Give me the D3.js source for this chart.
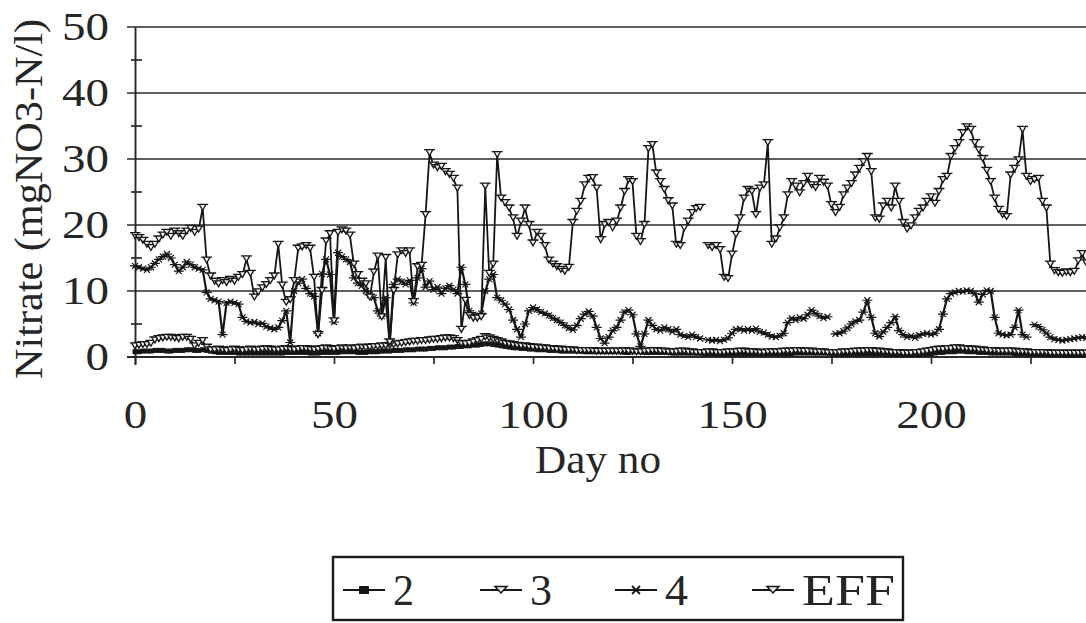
<!DOCTYPE html>
<html><head><meta charset="utf-8">
<script src="https://cdn.jsdelivr.net/npm/d3@7/dist/d3.min.js"></script>
<style>html,body{margin:0;padding:0;background:#fff;} svg{display:block;}</style>
</head><body><svg id="c" width="1086" height="623"></svg>
<script>
// ---------------- DATA ----------------
const days = d3.range(0, 240); // day numbers 0..239
const xTicks = [0, 25, 50, 75, 100, 125, 150, 175, 200, 225];
const xTickLabels = [0, 50, 100, 150, 200];
const yTicks = [0, 10, 20, 30, 40, 50];
const yMinorTicks = [5, 15, 25, 35, 45];
const seriesNames = ["2", "3", "4", "EFF"];

const sEFF = [
 18.3,18.0,17.6,17.0,16.5,17.0,17.8,18.4,18.8,18.2,
 19.0,18.6,18.2,19.0,19.4,18.8,19.3,22.6,14.6,12.2,
 11.4,11.0,11.5,11.2,11.7,11.4,12.0,12.4,14.8,12.6,
 9.0,9.8,10.4,10.9,11.5,12.2,17.0,10.8,8.2,8.6,
 11.5,16.4,16.6,16.8,16.4,12.0,3.3,10.0,17.5,18.6,
 5.4,18.8,19.2,19.0,18.4,14.0,12.4,11.4,11.0,9.0,
 12.8,15.2,6.0,15.0,2.2,10.0,15.4,16.0,15.6,16.0,
 8.3,13.6,13.8,21.5,30.9,29.0,28.6,28.8,28.0,27.6,
 27.0,25.5,4.1,8.5,6.2,5.8,5.8,6.0,25.8,12.6,
 14.0,30.6,24.0,23.3,22.5,21.0,18.2,20.5,22.5,20.0,
 17.2,18.8,18.2,16.8,14.6,14.0,13.6,13.2,12.9,13.5,
 20.3,22.0,23.5,26.0,27.0,27.1,25.5,17.7,20.0,20.3,
 19.5,20.5,22.5,25.0,26.8,26.5,18.2,17.4,20.0,31.5,
 32.1,27.8,26.5,25.3,23.6,22.8,17.0,16.8,19.5,20.5,
 21.8,22.4,22.6,null,16.8,16.5,16.8,16.2,12.0,11.8,
 15.5,18.5,21.0,24.0,25.3,25.0,21.5,25.5,26.0,32.4,
 17.0,17.8,19.5,21.0,24.5,26.5,25.8,24.8,26.2,27.3,
 26.0,25.6,27.0,26.4,25.8,23.0,21.8,22.6,24.5,25.5,
 26.2,27.5,28.5,29.5,30.3,28.0,21.0,20.8,22.8,23.5,
 22.5,25.8,23.5,20.3,19.3,19.8,21.0,22.0,22.5,23.5,
 24.2,23.2,25.0,26.8,27.3,30.3,31.5,32.4,33.9,34.8,
 34.4,32.4,31.3,30.0,28.2,26.5,24.0,22.3,21.5,21.2,
 27.5,28.5,29.8,34.4,27.3,26.5,26.8,27.0,23.5,22.5,
 14.0,13.0,12.7,12.6,12.8,12.7,12.9,14.5,15.6,14.2
];

const s4 = [
 13.8,13.6,13.4,13.2,13.6,14.2,14.8,15.2,15.6,15.0,
 14.0,13.0,13.6,14.4,14.0,13.6,13.4,13.2,9.8,8.8,
 8.6,8.4,3.4,8.2,8.4,8.2,8.0,6.0,5.4,5.2,
 5.3,5.0,5.1,4.6,4.4,4.2,4.5,5.5,7.0,2.2,
 10.0,11.2,11.8,10.4,9.6,9.2,3.6,12.6,14.8,12.5,
 5.3,15.8,15.2,14.8,14.4,12.0,11.2,10.8,10.0,9.4,
 9.0,7.0,6.2,9.0,2.1,11.0,11.8,11.4,11.0,11.6,
 8.2,12.0,13.4,10.6,11.5,10.2,10.6,9.6,10.4,10.8,
 10.2,9.6,13.6,11.0,7.0,6.4,6.2,6.6,10.0,11.8,
 12.5,9.0,8.6,8.0,7.2,5.6,4.2,3.0,5.0,7.0,
 7.5,7.2,6.8,6.6,6.3,5.9,5.6,5.2,4.8,4.4,
 4.1,4.8,5.8,6.5,6.9,6.2,4.5,2.8,2.1,3.0,
 4.0,4.5,5.6,6.8,7.1,6.4,3.5,1.6,3.5,5.6,
 4.8,4.2,4.0,4.5,4.2,3.8,4.2,3.4,3.2,3.0,
 3.4,3.0,2.8,null,2.6,2.5,2.6,2.4,2.6,2.9,
 3.6,4.2,4.3,4.0,4.2,4.0,4.3,3.8,3.7,3.4,
 3.1,3.0,3.2,3.6,5.2,5.9,5.6,6.0,5.8,6.4,
 7.1,6.6,6.2,5.9,6.1,null,3.5,3.6,3.9,4.4,
 5.0,5.4,5.6,6.8,8.6,6.0,3.6,3.1,3.8,4.5,
 5.2,6.1,4.0,3.4,3.0,3.2,2.9,3.3,3.5,3.6,
 3.4,3.6,4.2,6.5,8.8,9.6,9.8,10.0,9.9,10.1,
 10.0,9.6,8.3,9.5,10.1,10.0,6.0,3.6,3.4,3.3,
 3.4,4.5,7.1,3.4,3.0,null,4.9,4.6,4.1,3.6,
 3.0,2.7,2.6,2.5,2.6,2.7,2.8,2.9,3.0,2.9
];

const s3 = [
 1.6,1.7,1.8,1.8,2.0,2.5,2.7,2.8,2.9,2.9,
 2.8,2.7,2.9,2.9,2.6,1.6,2.0,2.4,1.4,1.0,
 1.0,1.1,1.0,0.9,1.0,1.1,1.0,0.9,1.0,1.1,
 1.0,1.0,1.1,1.2,1.1,1.0,1.0,1.1,1.2,1.1,
 1.0,1.1,1.2,1.2,1.1,1.0,1.1,1.2,1.3,1.2,
 1.1,1.2,1.3,1.2,1.3,1.2,1.3,1.4,1.3,1.4,
 1.5,1.5,1.6,1.6,1.7,1.8,1.9,2.0,2.1,2.2,
 2.3,2.3,2.4,2.4,2.5,2.6,2.6,2.7,2.8,2.8,
 2.7,2.4,2.0,1.9,2.0,2.2,2.4,2.6,3.0,2.8,
 2.6,2.4,2.2,2.0,1.9,1.8,1.7,1.6,1.6,1.5,
 1.4,1.4,1.3,1.3,1.2,1.2,1.1,1.1,1.0,1.0,
 1.0,0.9,0.9,0.9,0.9,0.9,0.8,0.8,0.8,0.8,
 0.8,0.8,0.8,0.9,0.8,0.8,0.7,0.7,0.8,0.8,
 0.9,0.9,0.8,0.8,0.7,0.7,0.7,0.8,0.8,0.7,
 0.7,0.6,0.6,0.6,0.7,0.7,0.6,0.6,0.6,0.7,
 0.7,0.7,0.8,0.8,0.7,0.7,0.7,0.6,0.6,0.7,
 0.7,0.7,0.7,0.8,0.8,0.8,0.9,0.9,0.8,0.8,
 0.8,0.7,0.7,0.7,0.6,0.6,0.6,0.6,0.7,0.7,
 0.7,0.8,0.8,0.8,0.9,0.9,0.8,0.8,0.7,0.7,
 0.6,0.6,0.6,0.5,0.5,0.5,0.6,0.6,0.7,0.8,
 0.9,1.0,1.1,1.1,1.2,1.2,1.3,1.3,1.2,1.2,
 1.1,1.1,1.0,1.0,0.9,0.9,0.9,0.8,0.8,0.8,
 0.8,0.8,0.7,0.7,0.7,0.6,0.6,0.6,0.6,0.6,
 0.5,0.5,0.5,0.5,0.5,0.5,0.5,0.5,0.5,0.5
];

const s2 = [
 0.8,0.8,0.9,0.9,0.9,1.0,1.0,1.0,0.9,0.9,
 1.0,1.0,1.0,1.1,1.1,1.0,1.0,1.1,1.0,0.9,
 0.8,0.7,0.7,0.7,0.7,0.7,0.6,0.6,0.6,0.6,
 0.6,0.6,0.6,0.6,0.6,0.6,0.6,0.6,0.7,0.7,
 0.7,0.7,0.7,0.7,0.6,0.6,0.6,0.7,0.7,0.7,
 0.7,0.7,0.8,0.8,0.8,0.8,0.7,0.7,0.7,0.8,
 0.8,0.8,0.9,0.9,0.9,1.0,1.0,1.0,1.1,1.1,
 1.1,1.2,1.2,1.2,1.3,1.3,1.4,1.4,1.4,1.5,
 1.5,1.6,1.6,1.7,1.7,1.8,1.8,1.9,2.0,2.0,
 1.9,1.8,1.7,1.6,1.5,1.4,1.4,1.3,1.3,1.2,
 1.2,1.1,1.1,1.1,1.0,1.0,1.0,0.9,0.9,0.9,
 0.9,0.9,0.9,0.8,0.8,0.8,0.8,0.8,0.8,0.8,
 0.8,0.8,0.8,0.7,0.7,0.8,0.8,0.8,0.7,0.7,
 0.7,0.7,0.7,0.7,0.7,0.6,0.6,0.6,0.6,0.6,
 0.6,0.6,0.6,0.5,0.5,0.5,0.5,0.5,0.5,0.5,
 0.5,0.5,0.5,0.5,0.5,0.5,0.5,0.5,0.5,0.5,
 0.5,0.5,0.5,0.5,0.5,0.5,0.6,0.6,0.6,0.6,
 0.6,0.6,0.6,0.6,0.6,0.5,0.5,0.5,0.5,0.5,
 0.5,0.5,0.5,0.5,0.5,0.5,0.5,0.5,0.5,0.4,
 0.4,0.4,0.4,0.4,0.4,0.4,0.4,0.4,0.5,0.5,
 0.5,0.6,0.7,0.7,0.8,0.8,0.8,0.9,0.9,0.8,
 0.8,0.8,0.7,0.7,0.7,0.6,0.6,0.6,0.6,0.6,
 0.6,0.5,0.5,0.5,0.5,0.4,0.4,0.4,0.4,0.4,
 0.4,0.4,0.4,0.3,0.3,0.3,0.3,0.3,0.3,0.3
];

// ---------------- CHART ----------------
const W = 1086, H = 623;
const svg = d3.select("#c");
const FONT = "'Liberation Serif', 'DejaVu Serif', serif";
const INK = "#161616";
const TXT = "#262626";

svg.append("rect").attr("width", W).attr("height", H).attr("fill", "#ffffff");

const x = d3.scaleLinear().domain([0, 250]).range([135, 1130]);
const y = d3.scaleLinear().domain([0, 50]).range([357, 27]);

svg.append("defs").append("clipPath").attr("id", "clip")
  .append("rect").attr("x", 130).attr("y", 0).attr("width", W - 130).attr("height", 380);

// gridlines
svg.append("g").selectAll("line").data(yTicks).join("line")
  .attr("x1", 127).attr("x2", W)
  .attr("y1", d => y(d)).attr("y2", d => y(d))
  .attr("stroke", "#2a2a2a").attr("stroke-width", 1.7);

// minor y ticks
svg.append("g").selectAll("line").data(yMinorTicks).join("line")
  .attr("x1", 131).attr("x2", 142)
  .attr("y1", d => y(d)).attr("y2", d => y(d))
  .attr("stroke", "#2a2a2a").attr("stroke-width", 1.7);

// y axis line
svg.append("line").attr("x1", 135.5).attr("x2", 135.5)
  .attr("y1", y(50)).attr("y2", y(0) + 8)
  .attr("stroke", "#2a2a2a").attr("stroke-width", 1.9);

// y axis labels
const yAxis = d3.axisLeft(y).tickValues(yTicks).tickSize(0).tickPadding(26).tickFormat(d3.format("d"));
const gy = svg.append("g").attr("transform", "translate(135,0)").call(yAxis);
gy.select(".domain").remove();
gy.selectAll("text").attr("font-family", FONT).attr("font-size", 39).attr("fill", TXT)
  .attr("textLength", d => String(d).length * 23.5).attr("lengthAdjust", "spacingAndGlyphs");

// x axis
const xAxis = d3.axisBottom(x).tickValues(xTicks).tickSize(7).tickPadding(36)
  .tickFormat(d => xTickLabels.includes(d) ? d : "");
const gx = svg.append("g").attr("transform", `translate(0,${y(0)})`).call(xAxis);
gx.select(".domain").remove();
gx.selectAll(".tick line").attr("stroke", "#2a2a2a").attr("stroke-width", 1.7);
gx.selectAll("text").attr("font-family", FONT).attr("font-size", 39).attr("fill", TXT)
  .attr("textLength", d => xTickLabels.includes(d) ? String(d).length * 23.5 : null)
  .attr("lengthAdjust", "spacingAndGlyphs");
svg.append("line").attr("x1", 127).attr("x2", W).attr("y1", y(0)).attr("y2", y(0))
  .attr("stroke", "#2a2a2a").attr("stroke-width", 1.9);

// axis titles
svg.append("text").attr("x", 598).attr("y", 473).attr("text-anchor", "middle")
  .attr("font-family", FONT).attr("font-size", 39).attr("fill", TXT)
  .attr("textLength", 126).attr("lengthAdjust", "spacingAndGlyphs").text("Day no");
svg.append("text").attr("transform", "translate(42,199) rotate(-90)").attr("text-anchor", "middle")
  .attr("font-family", FONT).attr("font-size", 39).attr("fill", TXT)
  .attr("textLength", 360).attr("lengthAdjust", "spacingAndGlyphs").text("Nitrate (mgNO3-N/l)");

// series
const plot = svg.append("g").attr("clip-path", "url(#clip)");
const line = d3.line().defined(d => d[1] !== null).x(d => x(d[0])).y(d => y(d[1]));
const pts = arr => days.map((d, i) => [d, arr[i]]);

const triMarker = "M-5.5,-3.5H5.5M-3.4,-3.5L0,2.4L3.4,-3.5";
const xMarker = "M-3,-3L3,3M-3,3L3,-3M-5,0H5";

const series = [
  {name: "2", data: s2, width: 3.6, marker: "square"},
  {name: "3", data: s3, width: 1.8, marker: "tri"},
  {name: "4", data: s4, width: 2.2, marker: "x"},
  {name: "EFF", data: sEFF, width: 1.8, marker: "tri"}
];

series.forEach(s => {
  const p = pts(s.data);
  plot.append("path").datum(p).attr("d", line).attr("fill", "none")
    .attr("stroke", INK).attr("stroke-width", s.width).attr("stroke-linejoin", "round");
  const mk = plot.append("g").selectAll("g").data(p.filter(d => d[1] !== null)).join("g")
    .attr("transform", d => `translate(${x(d[0])},${y(d[1])})`);
  if (s.marker === "square") {
    mk.append("rect").attr("x", -2.5).attr("y", -2.5).attr("width", 5).attr("height", 5).attr("fill", INK);
  } else if (s.marker === "tri") {
    mk.append("path").attr("d", triMarker).attr("fill", "#eeeeee").attr("stroke", INK).attr("stroke-width", 1.3);
  } else {
    mk.append("path").attr("d", xMarker).attr("fill", "none").attr("stroke", INK).attr("stroke-width", 1.2);
  }
});

// legend
const lg = svg.append("g");
lg.append("rect").attr("x", 333).attr("y", 557).attr("width", 570).attr("height", 63)
  .attr("fill", "none").attr("stroke", "#1a1a1a").attr("stroke-width", 2.4);
const legX = [343, 480, 615, 752];
const legTextW = [21, 22, 23, 93];
series.forEach((s, i) => {
  const g = lg.append("g").attr("transform", `translate(${legX[i]},590)`);
  g.append("line").attr("x1", 0).attr("x2", 42).attr("y1", 0).attr("y2", 0)
    .attr("stroke", INK).attr("stroke-width", 2.2);
  if (s.marker === "square") {
    g.append("rect").attr("x", 16).attr("y", -4).attr("width", 10).attr("height", 8).attr("fill", INK);
  } else if (s.marker === "tri") {
    g.append("path").attr("d", "M15,-3.5L27,-3.5L21,3Z").attr("fill", "#eeeeee").attr("stroke", INK).attr("stroke-width", 1.5);
  } else {
    g.append("path").attr("d", "M17,-4L25,4M17,4L25,-4").attr("stroke", INK).attr("stroke-width", 1.8);
  }
  g.append("text").attr("x", 50).attr("y", 15).attr("font-family", FONT).attr("font-size", 44)
    .attr("fill", TXT).attr("textLength", legTextW[i]).attr("lengthAdjust", "spacingAndGlyphs").text(s.name);
});
</script></body></html>
